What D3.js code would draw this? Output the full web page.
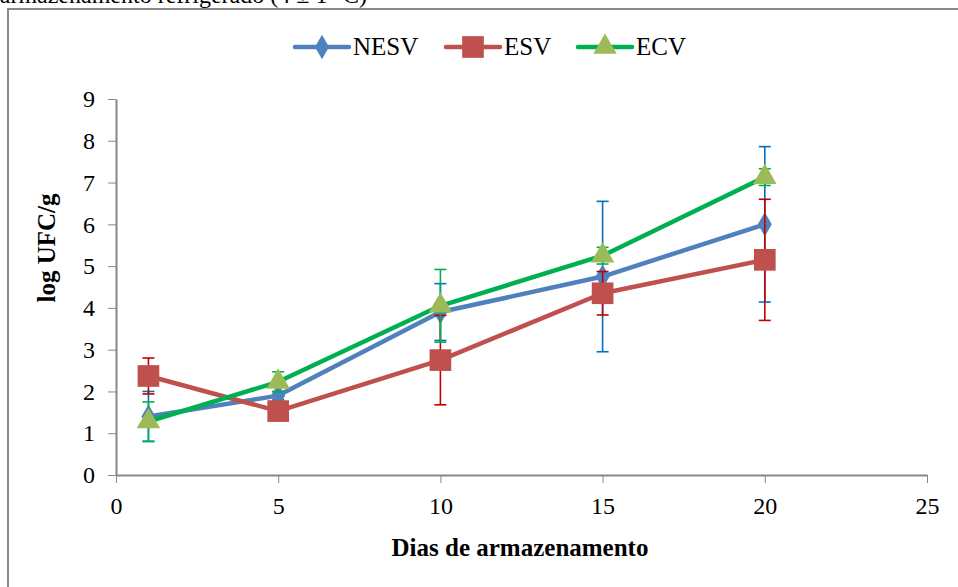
<!DOCTYPE html>
<html>
<head>
<meta charset="utf-8">
<script src="https://cdn.jsdelivr.net/npm/d3@7"></script>
<style>
  body { margin: 0; background: #fff; }
  text { font-family: "Liberation Serif", "Times New Roman", serif; }
</style>
</head>
<body>
<div id="chart-area"></div>
<script>
// data
let days = [1, 5, 10, 15, 20];
let seriesNames = ["NESV", "ESV", "ECV"];
let nesv = [1.4, 1.9, 3.9, 4.75, 6.0];
let nesvErr = [0.6, 0.1, 0.68, 1.8, 1.86];
let esv = [2.37, 1.53, 2.75, 4.35, 5.15];
let esvErr = [0.43, 0.1, 1.07, 0.52, 1.45];
let ecv = [1.28, 2.23, 4.05, 5.25, 7.13];
let ecvErr = [0.47, 0.24, 0.87, 0.2, 0.2];
let xTicks = [0, 5, 10, 15, 20, 25];
let yTicks = [0, 1, 2, 3, 4, 5, 6, 7, 8, 9];

let width = 958;
let height = 587;
let margin = { left: 116, right: 31, top: 99, bottom: 112 };

let svg = d3.select("#chart-area")
    .append("svg")
    .attr("width", width)
    .attr("height", height);

// caption of the page above the chart, cut by the top edge as in the original
svg.append("text")
    .attr("x", 367)
    .attr("y", 3)
    .attr("text-anchor", "end")
    .attr("font-size", 24)
    .attr("fill", "#000")
    .text("armazenamento refrigerado (4 ± 1 °C)");

// chart frame (runs off the picture on the right and bottom)
svg.append("rect")
    .attr("x", 8)
    .attr("y", 9)
    .attr("width", 1000)
    .attr("height", 700)
    .attr("fill", "#fff")
    .attr("stroke", "#888")
    .attr("stroke-width", 2);

let x = d3.scaleLinear()
    .domain([0, 25])
    .range([margin.left, width - margin.right]);

let y = d3.scaleLinear()
    .domain([0, 9])
    .range([height - margin.bottom, margin.top]);

// X axis
let xAxis = svg.append("g")
    .attr("class", "x-axis")
    .attr("transform", "translate(0," + (height - margin.bottom) + ")")
    .call(d3.axisBottom(x).tickValues(xTicks).tickSize(8).tickSizeOuter(0).tickPadding(14));
xAxis.select(".domain").attr("stroke", "#888").attr("stroke-width", 2);
xAxis.selectAll(".tick line").attr("stroke", "#888");
xAxis.selectAll("text").attr("font-size", 24).attr("fill", "#000")
    .style("font-family", "Liberation Serif");

// Y axis
let yAxis = svg.append("g")
    .attr("class", "y-axis")
    .attr("transform", "translate(" + margin.left + ",0)")
    .call(d3.axisLeft(y).tickValues(yTicks).tickSize(8).tickSizeOuter(0).tickPadding(13));
yAxis.select(".domain").attr("stroke", "#888").attr("stroke-width", 2);
yAxis.selectAll(".tick line").attr("stroke", "#888");
yAxis.selectAll("text").attr("font-size", 24).attr("fill", "#000")
    .style("font-family", "Liberation Serif");

// axis titles
svg.append("text")
    .attr("x", 520)
    .attr("y", 556)
    .attr("text-anchor", "middle")
    .attr("font-size", 25)
    .attr("font-weight", "bold")
    .text("Dias de armazenamento");

svg.append("text")
    .attr("transform", "rotate(-90)")
    .attr("x", -248)
    .attr("y", 55)
    .attr("text-anchor", "middle")
    .attr("font-size", 25)
    .attr("font-weight", "bold")
    .text("log UFC/g");

let series = [
    { name: seriesNames[0], values: nesv, err: nesvErr, line: "#4F81BD", errColor: "#0070C0",
      fill: "#4F81BD", symbol: d3.symbolDiamond, size: 170 },
    { name: seriesNames[1], values: esv, err: esvErr, line: "#C0504D", errColor: "#C00000",
      fill: "#C0504D", symbol: d3.symbolSquare, size: 470 },
    { name: seriesNames[2], values: ecv, err: ecvErr, line: "#00B050", errColor: "#00B050",
      fill: "#9BBB59", symbol: d3.symbolTriangle, size: 240 }
];

let line = d3.line()
    .x((d, i) => x(days[i]))
    .y(d => y(d));

series.forEach((s) => {
    let g = svg.append("g").attr("class", "series");

    g.append("path")
        .attr("d", line(s.values))
        .attr("fill", "none")
        .attr("stroke", s.line)
        .attr("stroke-width", 4.5)
        .attr("stroke-linejoin", "round");

    // error bars
    s.values.forEach((v, i) => {
        let cx = x(days[i]);
        let top = y(v + s.err[i]);
        let bot = y(v - s.err[i]);
        g.append("line")
            .attr("x1", cx).attr("x2", cx)
            .attr("y1", top).attr("y2", bot)
            .attr("stroke", s.errColor).attr("stroke-width", 1.6);
        [top, bot].forEach((yy) => {
            g.append("line")
                .attr("x1", cx - 6).attr("x2", cx + 6)
                .attr("y1", yy).attr("y2", yy)
                .attr("stroke", s.errColor).attr("stroke-width", 1.6);
        });
    });

    g.selectAll(".marker")
        .data(s.values)
        .enter()
        .append("path")
        .attr("class", "marker")
        .attr("transform", (d, i) => "translate(" + x(days[i]) + "," + y(d) + ")")
        .attr("d", d3.symbol().type(s.symbol).size(s.size))
        .attr("fill", s.fill);
});

// legend
let legendX = [295, 446, 578];
series.forEach((s, i) => {
    let lg = svg.append("g")
        .attr("transform", "translate(" + legendX[i] + ",47)");
    lg.append("line")
        .attr("x1", 0).attr("x2", 54)
        .attr("stroke", s.line)
        .attr("stroke-width", 4.5)
        .attr("stroke-linecap", "round");
    lg.append("path")
        .attr("transform", "translate(27,0)")
        .attr("d", d3.symbol().type(s.symbol).size(s.size))
        .attr("fill", s.fill);
    lg.append("text")
        .attr("x", 58)
        .attr("y", 8)
        .attr("font-size", 25)
        .text(s.name);
});
</script>
</body>
</html>
